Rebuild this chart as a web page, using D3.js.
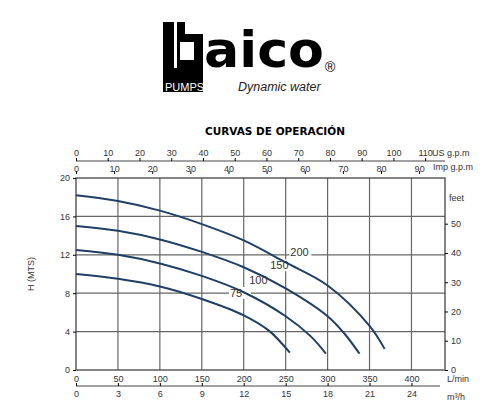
<!DOCTYPE html>
<html><head><meta charset="utf-8">
<script src="https://cdn.jsdelivr.net/npm/d3@7"></script>
<style>body{margin:0;background:#fff}</style>
</head><body>
<script>
// curve data: flow L/min, head m
var models = ["200", "150", "100", "75"];
var curve200 = [[0,18.2],[50,17.6],[100,16.6],[150,15.2],[200,13.5],[250,11.2],[300,8.8],[350,4.6],[368,2.2]];
var curve150 = [[0,15],[50,14.5],[100,13.6],[150,12.3],[200,10.7],[250,8.5],[300,5.6],[320,3.8],[338,1.7]];
var curve100 = [[0,12.5],[50,12],[100,11.1],[150,9.8],[200,8.1],[250,5.6],[280,3.5],[298,1.7]];
var curve75 = [[0,10],[50,9.5],[100,8.7],[150,7.4],[200,5.7],[230,4.1],[255,1.8]];
var labelPos = [[252,11.9],[228,10.5],[203,9],[180,7.6]]; // where the model numbers sit
var lpmTicks = [0,50,100,150,200,250,300,350,400];
var m3hTicks = [0,3,6,9,12,15,18,21,24];
var usTicks = [0,10,20,30,40,50,60,70,80,90,100,110];
var impTicks = [0,10,20,30,40,50,60,70,80,90];
var mTicks = [0,4,8,12,16,20];
var feetTicks = [0,10,20,30,40,50];

var svg = d3.select("body").append("svg").attr("width",500).attr("height",419);
var x = d3.scaleLinear().domain([0,440]).range([76,445]);
var y = d3.scaleLinear().domain([0,20]).range([370,178]);
var col = "#1f3f66", ax = "#444";

// logo
var logo = svg.append("g");
logo.append("rect").attr("x",163).attr("y",22).attr("width",40).attr("height",70).attr("fill","#000");
logo.append("rect").attr("x",174).attr("y",22).attr("width",3).attr("height",46).attr("fill","#fff");
logo.append("rect").attr("x",185).attr("y",22).attr("width",18).attr("height",12).attr("fill","#fff");
logo.append("rect").attr("x",180).attr("y",42).attr("width",14).attr("height",18).attr("fill","#fff");
logo.append("text").attr("x",204).attr("y",67).text("aico")
  .attr("font-family","DejaVu Sans").attr("font-weight","bold").attr("font-size",50)
  .attr("textLength",120).attr("lengthAdjust","spacingAndGlyphs");
logo.append("text").attr("x",325).attr("y",72).text("®").attr("font-family","Liberation Sans").attr("font-size",14);
logo.append("text").attr("x",165).attr("y",91).text("PUMPS").attr("fill","#fff")
  .attr("font-family","Liberation Sans").attr("font-size",11);
logo.append("text").attr("x",238).attr("y",91).text("Dynamic water")
  .attr("font-family","Liberation Sans").attr("font-style","italic").attr("font-size",12.5).attr("fill","#222");

svg.append("text").attr("x",275).attr("y",135).attr("text-anchor","middle").text("CURVAS DE OPERACIÓN")
  .attr("font-family","DejaVu Sans").attr("font-weight","bold").attr("font-size",10.5);

var font = function(sel){ sel.attr("font-family","Liberation Sans").attr("font-size",9).attr("fill","#333"); };

// grid
svg.append("g").selectAll("line.v").data(lpmTicks.slice(1)).enter().append("line")
  .attr("x1",d=>x(d)).attr("x2",d=>x(d)).attr("y1",y(20)).attr("y2",y(0)).attr("stroke","#666").attr("stroke-width",1.2);
svg.append("g").selectAll("line.h").data(mTicks.slice(1,5)).enter().append("line")
  .attr("x1",x(0)).attr("x2",445).attr("y1",d=>y(d)).attr("y2",d=>y(d)).attr("stroke","#666").attr("stroke-width",1.2);
svg.append("rect").attr("x",76).attr("y",178).attr("width",369).attr("height",192)
  .attr("fill","none").attr("stroke",ax).attr("stroke-width",1.3);

// label backgrounds that break the grid
svg.append("g").selectAll("rect").data(labelPos).enter().append("rect")
  .attr("x",d=>x(d[0])+2).attr("y",d=>y(d[1])-10).attr("width",22).attr("height",12).attr("fill","#fff");

// curves
var line = d3.line().x(d=>x(d[0])).y(d=>y(d[1])).curve(d3.curveCatmullRom);
svg.append("g").selectAll("path").data([curve200,curve150,curve100,curve75]).enter().append("path")
  .attr("d",line).attr("fill","none").attr("stroke",col).attr("stroke-width",2);

svg.append("g").selectAll("text").data(labelPos).enter().append("text")
  .attr("x",d=>x(d[0])+3).attr("y",d=>y(d[1])).text((d,i)=>models[i])
  .attr("font-family","Liberation Sans").attr("font-size",11).attr("fill","#333");

// left axis (m)
var gl = svg.append("g").attr("transform","translate(76,0)")
  .call(d3.axisLeft(y).tickValues(mTicks).tickSize(3));
gl.selectAll("text").call(font);
gl.select(".domain").remove();
svg.append("text").attr("transform","translate(34,274) rotate(-90)").attr("text-anchor","middle")
  .text("H (MTS)").call(font);

// right axis (feet)
var yf = d3.scaleLinear().domain([0,20/0.3048]).range([370,178]);
var gr = svg.append("g").attr("transform","translate(445,0)")
  .call(d3.axisRight(yf).tickValues(feetTicks).tickSize(3));
gr.selectAll("text").call(font);
gr.select(".domain").remove();
svg.append("text").attr("x",449).attr("y",201).text("feet").call(font);

// bottom L/min
var gb = svg.append("g").attr("transform","translate(0,370)")
  .call(d3.axisBottom(x).tickValues(lpmTicks).tickSize(0).tickPadding(6));
gb.selectAll("text").call(font);
gb.select(".domain").remove();
svg.append("text").attr("x",447).attr("y",382).text("L/min").call(font);

// bottom m3/h
var xm = d3.scaleLinear().domain([0,440*0.06]).range([76,445]);
var gm = svg.append("g").attr("transform","translate(0,386)")
  .call(d3.axisBottom(xm).tickValues(m3hTicks).tickSize(-3).tickPadding(5));
gm.selectAll("text").call(font);
gm.select(".domain").attr("d","M76,0H440").attr("stroke",ax);
svg.append("text").attr("x",447).attr("y",400).text("m³/h").call(font);

// top US gpm
var xus = d3.scaleLinear().domain([0,440/3.785]).range([76,445]);
var gu = svg.append("g").attr("transform","translate(0,161)")
  .call(d3.axisTop(xus).tickValues(usTicks).tickSize(3).tickPadding(2));
gu.selectAll("text").call(font);
gu.select(".domain").attr("d","M76,0H445").attr("stroke",ax);
svg.append("text").attr("x",432).attr("y",156).text("US g.p.m").call(font);

// top Imp gpm
var xim = d3.scaleLinear().domain([0,440/4.546]).range([76,445]);
var gi = svg.append("g").attr("transform","translate(0,171)")
  .call(d3.axisTop(xim).tickValues(impTicks).tickSize(-3).tickPadding(-1));
gi.selectAll("text").call(font);
gi.select(".domain").remove();
svg.append("text").attr("x",433).attr("y",170).text("Imp g.p.m").call(font);
</script>
</body></html>
